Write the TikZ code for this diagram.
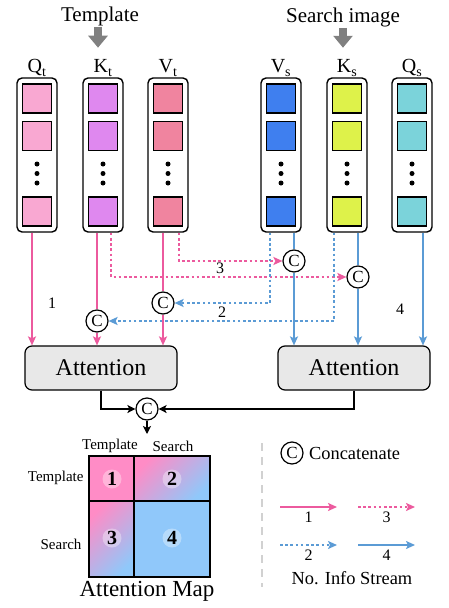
\documentclass[tikz,border=0pt]{standalone}
\usepackage{amsmath}
\usepackage{fontspec}
\setmainfont{Liberation Serif}
\usetikzlibrary{arrows.meta, positioning, calc}
\definecolor{tokqt}   {RGB}{249, 168, 210}
\definecolor{tokkt}   {RGB}{223, 136, 239}
\definecolor{tokvt}   {RGB}{240, 132, 159}
\definecolor{tokvs}   {RGB}{ 63, 127, 239}
\definecolor{tokks}   {RGB}{222, 242,  74}
\definecolor{tokqs}   {RGB}{123, 211, 218}
\definecolor{linepink}{RGB}{236,  90, 158}
\definecolor{lineblue}{RGB}{ 91, 155, 213}
\definecolor{attgray} {RGB}{232, 232, 232}
\definecolor{mpink}   {RGB}{255, 140, 198}
\definecolor{mblue}   {RGB}{144, 200, 250}
\newcommand{\fstitle}{\fontsize{21}{24}\selectfont}
\newcommand{\fslab}{\fontsize{20}{24}\selectfont}
\newcommand{\fsbig}{\fontsize{24}{28}\selectfont}
\newcommand{\fsleg}{\fontsize{18.4}{22}\selectfont}
\newcommand{\fscat}{\fontsize{17}{20}\selectfont}
\newcommand{\fsnum}{\fontsize{16}{19}\selectfont}
\newcommand{\fsmap}{\fontsize{15}{18}\selectfont}
\tikzset{
	colbox/.style={draw, line width=1.4pt, rounded corners=5pt, minimum width=40pt, minimum height=154pt, inner sep=0pt},
	tok/.style={draw, line width=1.2pt, minimum size=29pt, inner sep=0pt},
	cat/.style={circle, draw, line width=1.2pt, fill=white, minimum size=22pt, inner sep=0pt, font=\fscat},
	attbox/.style={draw, line width=1.2pt, rounded corners=7pt, fill=attgray, minimum width=152pt, minimum height=44pt, font=\fsbig},
	headtip/.style={-{Stealth[length=9pt,width=8pt,inset=2pt]}},
	pinkline/.style={linepink, line width=2.6pt},
	pinkarr/.style={pinkline, headtip},
	pinkdot/.style={pinkarr, dash pattern=on 2.6pt off 2.6pt},
	blueline/.style={lineblue, line width=2.6pt},
	bluearr/.style={blueline, headtip},
	bluedot/.style={bluearr, dash pattern=on 2.6pt off 2.6pt},
	blackarr/.style={line width=2pt, -{Stealth[length=8pt,width=8pt,inset=2pt]}},
	grayarr/.style={black!50, line width=8pt, -{Triangle[length=12pt,width=19pt]}},
	numdisc/.style={circle, fill=white, fill opacity=0.35, text opacity=1, inner sep=0pt, minimum size=19pt, font=\bfseries\fontsize{20}{24}\selectfont}
}
\begin{document}
\begin{tikzpicture}[x=1pt, y=-1pt]
	\useasboundingbox (0,0) rectangle (449,608);
	% inputs
	\node[font=\fstitle, inner sep=1pt] (tmpl) at (100,16) {Template};
	\node[font=\fstitle, inner sep=1pt] (srch) at (343,17) {Search image};
	\draw[grayarr] ([xshift=-2pt]tmpl.south) -- ++(0,21);
	\draw[grayarr] (srch.south) -- ++(0,20);
	\foreach \n/\x/\c/\l/\s in {qt/37/tokqt/Q/t, kt/103/tokkt/K/t, vt/168/tokvt/V/t, vs/281/tokvs/V/s, ks/347/tokks/K/s, qs/412/tokqs/Q/s}{
		\node[colbox] (\n) at (\x,155) {};
		\node[font=\fslab] (\n lab) at (\x,68) {\l$_\text{\s}$};
		\foreach \y in {98.5,136,211.5}{\node[tok, fill=\c] at (\x,\y) {};}
		\foreach \y in {164,173.5,183}{\fill (\x,\y) circle (2.5pt);}
	}
	% attention
	\node[attbox] (attL) at (101,368) {Attention};
	\node[attbox] (attR) at (354,368) {Attention};
	\node[cat] (c1) at (294,261) {C};
	\node[cat] (c2) at (358,277) {C};
	\node[cat] (c3) at (163,303) {C};
	\node[cat] (c4) at (97,321) {C};
	\draw[pinkdot] ([xshift=11pt]vt.south) |- (c1);
	\draw[pinkdot] ([xshift=8pt]kt.south) |- (c2);
	\draw[bluedot] ([xshift=-11pt]vs.south) |- (c3);
	\draw[bluedot] ([xshift=-13pt]ks.south) |- (c4);
	\draw[pinkarr] ([xshift=-5pt]qt.south) -- ([xshift=-5pt]qt.south |- attL.north);
	\draw[pinkline] ([xshift=-6pt]kt.south) -- (c4);
	\draw[pinkarr] (c4) -- (c4 |- attL.north);
	\draw[pinkline] ([xshift=-5pt]vt.south) -- (c3);
	\draw[pinkarr] (c3) -- (c3 |- attL.north);
	\draw[blueline] ([xshift=13pt]vs.south) -- (c1);
	\draw[bluearr] (c1) -- (c1 |- attR.north);
	\draw[blueline] ([xshift=11pt]ks.south) -- (c2);
	\draw[bluearr] (c2) -- (c2 |- attR.north);
	\draw[bluearr] ([xshift=11pt]qs.south) -- ([xshift=11pt]qs.south |- attR.north);
	\node[font=\fsnum] (n1) at (52,303) {1};
	\node[font=\fsnum] (n2) at (222,312) {2};
	\node[font=\fsnum] (n3) at (220,268) {3};
	\node[font=\fsnum] (n4) at (400,309) {4};
	\node[cat] (cm) at (147,409) {C};
	\draw[blackarr] (attL.south) |- (cm);
	\draw[blackarr] (attR.south) |- (cm);
	\draw[blackarr] (cm) -- ++(0,25);
	% attention map
	\fill[mpink] (89,456) rectangle (134,501);
	\shade[top color=mpink, bottom color=mblue, shading angle=45] (134,456) rectangle (210,501);
	\shade[top color=mpink, bottom color=mblue, shading angle=45] (89,501) rectangle (134,577);
	\fill[mblue] (134,501) rectangle (210,577);
	\draw[line width=1.4pt] (89,456) rectangle (210,577) (134,456) -- (134,577) (89,501) -- (210,501);
	\node[numdisc] (m1) at (112,479) {1};
	\node[numdisc] (m2) at (172,479) {2};
	\node[numdisc] (m3) at (112,538) {3};
	\node[numdisc] (m4) at (172,538) {4};
	\node[font=\fsmap] (ct) at (110,446) {Template};
	\node[font=\fsmap] (cs) at (173,446) {Search};
	\node[font=\fsmap, anchor=east] (rt) at (87,478) {Template};
	\node[font=\fsmap, anchor=east] (rs) at (85,544) {Search};
	\node[font=\fontsize{23}{27}\selectfont] (amap) at (147,591) {Attention Map};
	% legend
	\draw[black!18, line width=2.4pt, dash pattern=on 8pt off 6pt] (262,443) -- (262,587);
	\node[cat] (lc) at (292,453) {C};
	\node[font=\fsleg, right=2pt of lc] (lct) {Concatenate};
	\foreach \sty/\x/\y/\t in {pinkarr/280/507/1, pinkdot/358/507/3, bluedot/280/545/2, bluearr/358/545/4}{
		\draw[\sty] (\x,\y) coordinate (leg\t) -- ++(57,0) node[midway, below, font=\fsnum, black] {\t};
	}
	\node[font=\fsleg] (lst) at (352,578) {No. Info Stream};
\end{tikzpicture}
\end{document}
